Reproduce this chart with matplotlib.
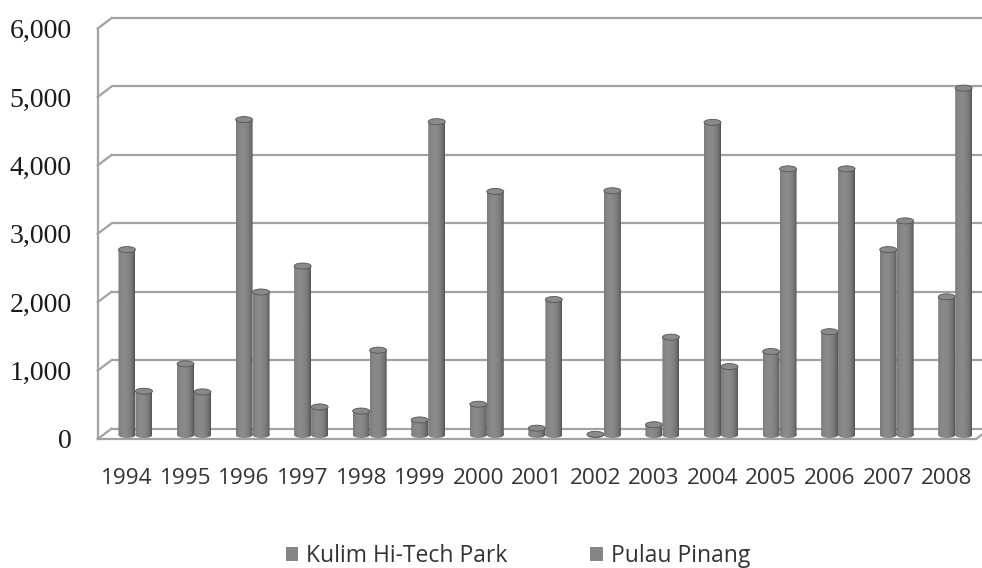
import numpy as np
import matplotlib
matplotlib.use("Agg")
import matplotlib.pyplot as plt
import matplotlib.transforms as mtransforms
from matplotlib.patches import Rectangle, Ellipse, PathPatch, Patch
from matplotlib.path import Path

years = ["1994", "1995", "1996", "1997", "1998", "1999", "2000", "2001",
         "2002", "2003", "2004", "2005", "2006", "2007", "2008"]
kulim = [2710, 1040, 4610, 2470, 350, 220, 450, 100, 10, 150, 4570, 1220, 1510, 2710, 2020]
pulau = [640, 630, 2090, 410, 1240, 4580, 3560, 1980, 3570, 1430, 1000, 3890, 3890, 3130, 5070]
series_names = ["Kulim Hi-Tech Park", "Pulau Pinang"]
y_ticks = [0, 1000, 2000, 3000, 4000, 5000, 6000]

W, H = 982, 568
fig = plt.figure(figsize=(W / 100, H / 100), dpi=100)
fig.patch.set_facecolor("white")

# front plane of the 3d box, in pixels
front_left, front_right = 97.7, 976
front_bottom, front_top = 439, 28.5
ax = fig.add_axes([front_left / W, (H - front_bottom) / H,
                   (front_right - front_left) / W, (front_bottom - front_top) / H])
ax.set_xlim(-0.5, 14.5)
ax.set_ylim(0, 6000)
for s in ax.spines.values():
    s.set_visible(False)
ax.set_facecolor("none")

# depth offsets (pixels -> inches at 100 dpi)
back_tr = ax.transData + mtransforms.ScaledTranslation(14 / 100, 10.5 / 100, fig.dpi_scale_trans)
bar_tr = ax.transData + mtransforms.ScaledTranslation(0, 4 / 100, fig.dpi_scale_trans)
label_tr = ax.transData + mtransforms.ScaledTranslation(-26 / 100, -3 / 100, fig.dpi_scale_trans)
grid_col = "#a2a2a2"

# back wall gridlines plus the short diagonal on the side wall
for v in y_ticks:
    ax.plot([-0.5, 15.5], [v, v], color=grid_col, lw=1.6, transform=back_tr,
            clip_on=False, zorder=1, solid_capstyle="butt")
    p0 = ax.transData.transform((-0.5, v))
    p1 = back_tr.transform((-0.5, v))
    fig.add_artist(plt.Line2D([p0[0] / W, p1[0] / W], [p0[1] / H, p1[1] / H],
                              color=grid_col, lw=1.6, zorder=1))
    ax.text(-0.5, v, f"{v:,}", transform=label_tr, ha="right", va="center",
            fontfamily="Liberation Serif", fontsize=20, color="#1a1a1a")
# front left edge and floor
ax.plot([-0.5, -0.5], [0, 6000], color=grid_col, lw=1.6, clip_on=False, zorder=1)
ax.plot([-0.5, 14.5], [0, 0], color=grid_col, lw=1.6, clip_on=False, zorder=1)
p0 = ax.transData.transform((14.5, 0))
p1 = back_tr.transform((14.5, 0))
fig.add_artist(plt.Line2D([p0[0] / W, p1[0] / W], [p0[1] / H, p1[1] / H],
                          color=grid_col, lw=1.6, zorder=1))

# cylinder shading
t = np.linspace(0, 1, 64)
shade = 0.30 + 0.24 * np.clip(1 - ((t - 0.38) / 0.62) ** 2, 0, 1) ** 0.6
grad = np.tile(shade, (2, 1))

bw = 0.29
cap_h = 88
offsets = [0.0, 0.29]
for k, vals in enumerate([kulim, pulau]):
    for i, v in enumerate(vals):
        x0 = i + offsets[k] - bw / 2
        rect = Rectangle((x0, 0), bw, v)
        ell_b = Ellipse((x0 + bw / 2, 0), bw, cap_h)
        path = Path.make_compound_path(
            rect.get_patch_transform().transform_path(rect.get_path()),
            ell_b.get_patch_transform().transform_path(ell_b.get_path()))
        clip = PathPatch(path, transform=bar_tr, facecolor="none", edgecolor="none")
        im = ax.imshow(grad, extent=[x0, x0 + bw, -cap_h, v + cap_h], aspect="auto",
                       cmap="gray", vmin=0, vmax=1, transform=bar_tr,
                       interpolation="bilinear", zorder=3)
        im.set_clip_path(clip)
        cap = Ellipse((x0 + bw / 2, v), bw, cap_h, transform=bar_tr,
                      facecolor="#8a8a8a", edgecolor="#555555", lw=0.6, zorder=5)
        ax.add_patch(cap)

ax.set_xlim(-0.5, 14.5)
ax.set_ylim(0, 6000)

ax.set_yticks([])
ax.set_xticks(range(len(years)))
ax.set_xticklabels(years, fontfamily="Open Sans", fontsize=16.2, color="#333333")
ax.tick_params(axis="x", length=0, pad=21)

handles = [Patch(facecolor="#858585", edgecolor="none") for _ in series_names]
fig.legend(handles, series_names, loc="center", bbox_to_anchor=(518 / W, (H - 556) / H),
           ncol=2, frameon=False, prop={"family": "Open Sans", "size": 16.5},
           handlelength=0.55, handleheight=0.55, handletextpad=0.35,
           columnspacing=3.6, labelcolor="#333333")

fig.savefig("out.png", dpi=100)
